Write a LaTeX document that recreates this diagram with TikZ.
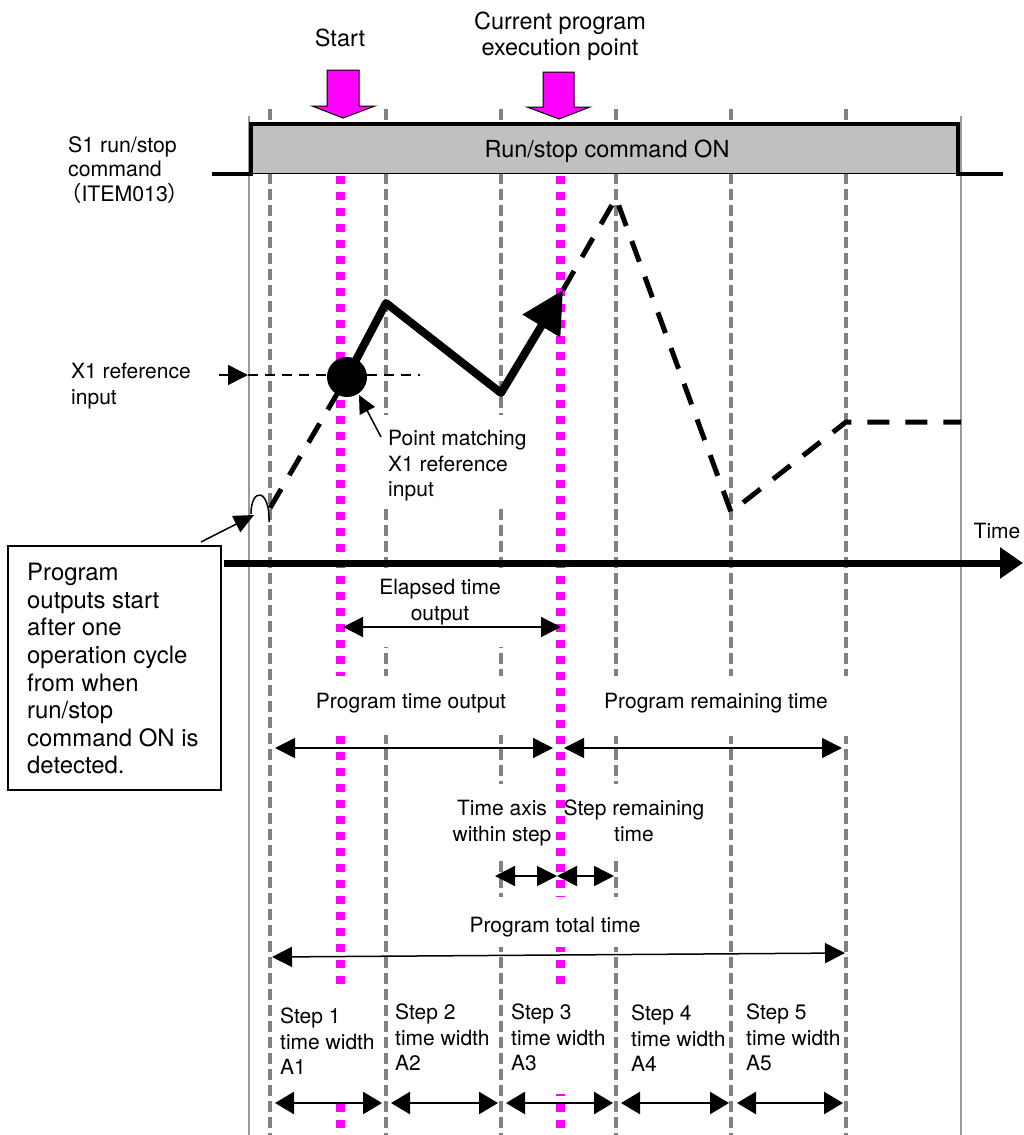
\documentclass[tikz,border=0pt]{standalone}
\usepackage{fontspec}
\setmainfont{TeX Gyre Heros}
\newfontfamily\cjk{Noto Sans CJK JP}
\usetikzlibrary{arrows.meta}
\definecolor{gridgray}{RGB}{128,128,128}
\definecolor{framegray}{RGB}{155,155,155}
\definecolor{boxgray}{RGB}{192,192,192}
\definecolor{pink}{RGB}{255,0,255}
\begin{document}
\begin{tikzpicture}[x=1pt,y=-1pt,
  lbl/.style={font=\fontsize{21}{25.5}\selectfont, inner sep=0pt, align=center},
  lbll/.style={font=\fontsize{21}{25.5}\selectfont, inner sep=0pt, align=left},
  biglbl/.style={font=\fontsize{23.5}{26}\selectfont, inner sep=0pt, align=center},
  gridline/.style={draw=gridgray, line width=3.6pt, dash pattern=on 11pt off 5pt},
  frameline/.style={draw=framegray, line width=1.5pt},
  magline/.style={draw=pink, line width=9pt, dash pattern=on 8pt off 8pt},
  magarrow/.style={fill=pink, draw=black, line width=1pt},
  mask/.style={fill=white},
  dashcurve/.style={line width=5pt, dash pattern=on 22pt off 16pt},
  thin/.style={line width=1.5pt},
  dbl/.style={line width=1.5pt, {Triangle[length=20pt,width=20pt]}-{Triangle[length=20pt,width=20pt]}},
  dblstep/.style={line width=2.5pt, {Triangle[length=19pt,width=22pt]}-{Triangle[length=19pt,width=22pt]}},
]
\useasboundingbox (0,0) rectangle (1024,1135);

% frame and grid lines
\draw[frameline] (249,116) -- (249,1135);
\draw[frameline] (961,116) -- (961,1135);
\foreach \x in {270,386,501,616,731,846} \draw[gridline] (\x,109) -- (\x,1135);

% run/stop box fill
\fill[boxgray] (251,124) rectangle (958,174);
\draw[line width=1.2pt] (251,173.4) -- (958,173.4);

% magenta execution lines
\draw[magline] (340,176) -- (340,1135);
\draw[magline] (560,176) -- (560,1135);

% masks behind labels
\fill[mask] (370,572) rectangle (512,647);
\fill[mask] (300,676) rectangle (510,735);
\fill[mask] (585,676) rectangle (856,736);
\fill[mask] (445,784) rectangle (553,857);
\fill[mask] (566,784) rectangle (712,857);
\fill[mask] (455,897) rectangle (655,947);
\fill[mask] (380,415) rectangle (535,505);
\fill[mask] (275,990) rectangle (380,1100);
\fill[mask] (505,985) rectangle (610,1094);

% run/stop signal
\draw[line width=3.5pt, line join=miter] (212,174) -- (251,174) -- (251,124) -- (958,124) -- (958,174) -- (1003,174);

% magenta block arrows
\draw[magarrow] (327,70) -- (359,70) -- (359,106) -- (375,106) -- (343,118) -- (312,106) -- (327,106) -- cycle;
\draw[magarrow] (543,72) -- (574,72) -- (574,107) -- (590,107) -- (559,119) -- (527,107) -- (543,107) -- cycle;

% labels at top
\node[biglbl, anchor=north] (start) at (340,29) {Start};
\node[biglbl, anchor=north] (cur) at (560,12) {Current program\\execution point};
\node[biglbl, anchor=north] (on) at (607,140) {Run/stop command ON};
\node[font=\fontsize{21.3}{24.5}\selectfont, inner sep=0pt, align=left, anchor=north west] (s1) at (68,136) {S1 run/stop\\command\\\hspace*{-8pt}{\cjk （}ITEM013{\cjk ）}};

% time axis
\coordinate (ax0) at (224,563);
\coordinate (ax1) at (1023,563);
\draw[line width=7pt, -{Triangle[length=23pt,width=30pt]}] (ax0) -- (ax1);
\node[lbl, anchor=north] (time) at (997,523) {Time};

% X1 reference input
\node[lbll, anchor=north west] (x1) at (71,363) {X1 reference\\input};
\coordinate (xr0) at (219,375);
\coordinate (xr1) at (248,375);
\coordinate (xr2) at (420,375);
\draw[thin, -{Triangle[length=20pt,width=20pt]}] (xr0) -- (xr1);
\draw[thin, dash pattern=on 10pt off 7pt] (xr1) -- (xr2);

% process value curve
\coordinate (p0) at (270,508);
\coordinate (mc) at (347,377);
\coordinate (p2) at (386,303);
\coordinate (p3) at (501,393);
\coordinate (p4) at (563,290);
\coordinate (p5) at (616,198);
\coordinate (p6) at (731,512);
\coordinate (p7) at (846,422);
\coordinate (p8) at (961,422);
\draw[dashcurve] (p0) -- (mc);
\draw[dashcurve, line join=round] (p4) -- (p5) -- (p6) -- (p7) -- (p8);
\draw[line width=8pt, line join=round, -{Triangle[length=42pt,width=42pt]}] (mc) -- (p2) -- (p3) -- (p4);
\node[circle, fill=black, minimum size=40pt, inner sep=0pt] (match) at (mc) {};

% point matching label
\node[lbll, anchor=north west] (pm) at (388,430) {Point matching\\X1 reference\\input};
\coordinate (pm0) at (381,437);
\coordinate (pm1) at (359,395);
\draw[thin, -{Triangle[length=18pt,width=17pt]}] (pm0) -- (pm1);

% start hook
\coordinate (hk0) at (269,522);
\coordinate (hk1) at (251,514);
\draw[thin] (hk0) .. controls (270,488) and (251,487) .. (hk1);

% note box
\node[draw, line width=1.5pt, fill=white, minimum width=213pt, minimum height=244pt, anchor=north west, inner sep=0pt] (notebox) at (7,545) {};
\node[font=\fontsize{23.9}{27.6}\selectfont, inner sep=0pt, align=left, anchor=north west] (note) at (27,563) {Program\\outputs start\\after one\\operation cycle\\from when\\run/stop\\command ON is\\detected.};
\coordinate (nt0) at (201,542);
\coordinate (nt1) at (254,515);
\draw[thin, -{Triangle[length=20pt,width=18pt]}] (nt0) -- (nt1);

% elapsed time output
\node[lbl, anchor=north] (el) at (440,579) {Elapsed time\\output};
\coordinate (el0) at (343,627);
\coordinate (el1) at (561,627);
\draw[dbl] (el0) -- (el1);

% program time output / remaining
\node[lbl, anchor=north] (pto) at (411,693) {Program time output};
\node[lbl, anchor=north] (prt) at (716,693) {Program remaining time};
\coordinate (pt0) at (275,748);
\coordinate (pt1) at (553,748);
\coordinate (pr0) at (564,748);
\coordinate (pr1) at (842,748);
\draw[dbl] (pt0) -- (pt1);
\draw[dbl] (pr0) -- (pr1);

% step time axis / step remaining
\node[lbl, anchor=north] (tas) at (502,800) {Time axis\\within step};
\node[lbl, anchor=north] (srt) at (634,800) {Step remaining\\time};
\coordinate (ts0) at (495,876);
\coordinate (ts1) at (557,876);
\coordinate (ts2) at (614,876);
\draw[dbl] (ts0) -- (ts1);
\draw[dbl] (ts1) -- (ts2);

% program total time
\node[lbl, anchor=north] (ptt) at (555,917) {Program total time};
\coordinate (tt0) at (272,957);
\coordinate (tt1) at (845,953);
\draw[dbl] (tt0) -- (tt1);

% steps
\node[lbll, anchor=north west] (st1) at (280,1008) {Step 1\\time width\\A1};
\node[lbll, anchor=north west] (st2) at (395,1004) {Step 2\\time width\\A2};
\node[lbll, anchor=north west] (st3) at (511,1004) {Step 3\\time width\\A3};
\node[lbll, anchor=north west] (st4) at (631,1005) {Step 4\\time width\\A4};
\node[lbll, anchor=north west] (st5) at (746,1004) {Step 5\\time width\\A5};
\coordinate (sa1) at (275,1103); \coordinate (sb1) at (382,1103);
\coordinate (sa2) at (391,1103); \coordinate (sb2) at (498,1103);
\coordinate (sa3) at (506,1103); \coordinate (sb3) at (613,1103);
\coordinate (sa4) at (621,1103); \coordinate (sb4) at (729,1103);
\coordinate (sa5) at (737,1103); \coordinate (sb5) at (843,1103);
\draw[dblstep] (sa1) -- (sb1);
\draw[dblstep] (sa2) -- (sb2);
\draw[dblstep] (sa3) -- (sb3);
\draw[dblstep] (sa4) -- (sb4);
\draw[dblstep] (sa5) -- (sb5);
\end{tikzpicture}
\end{document}
